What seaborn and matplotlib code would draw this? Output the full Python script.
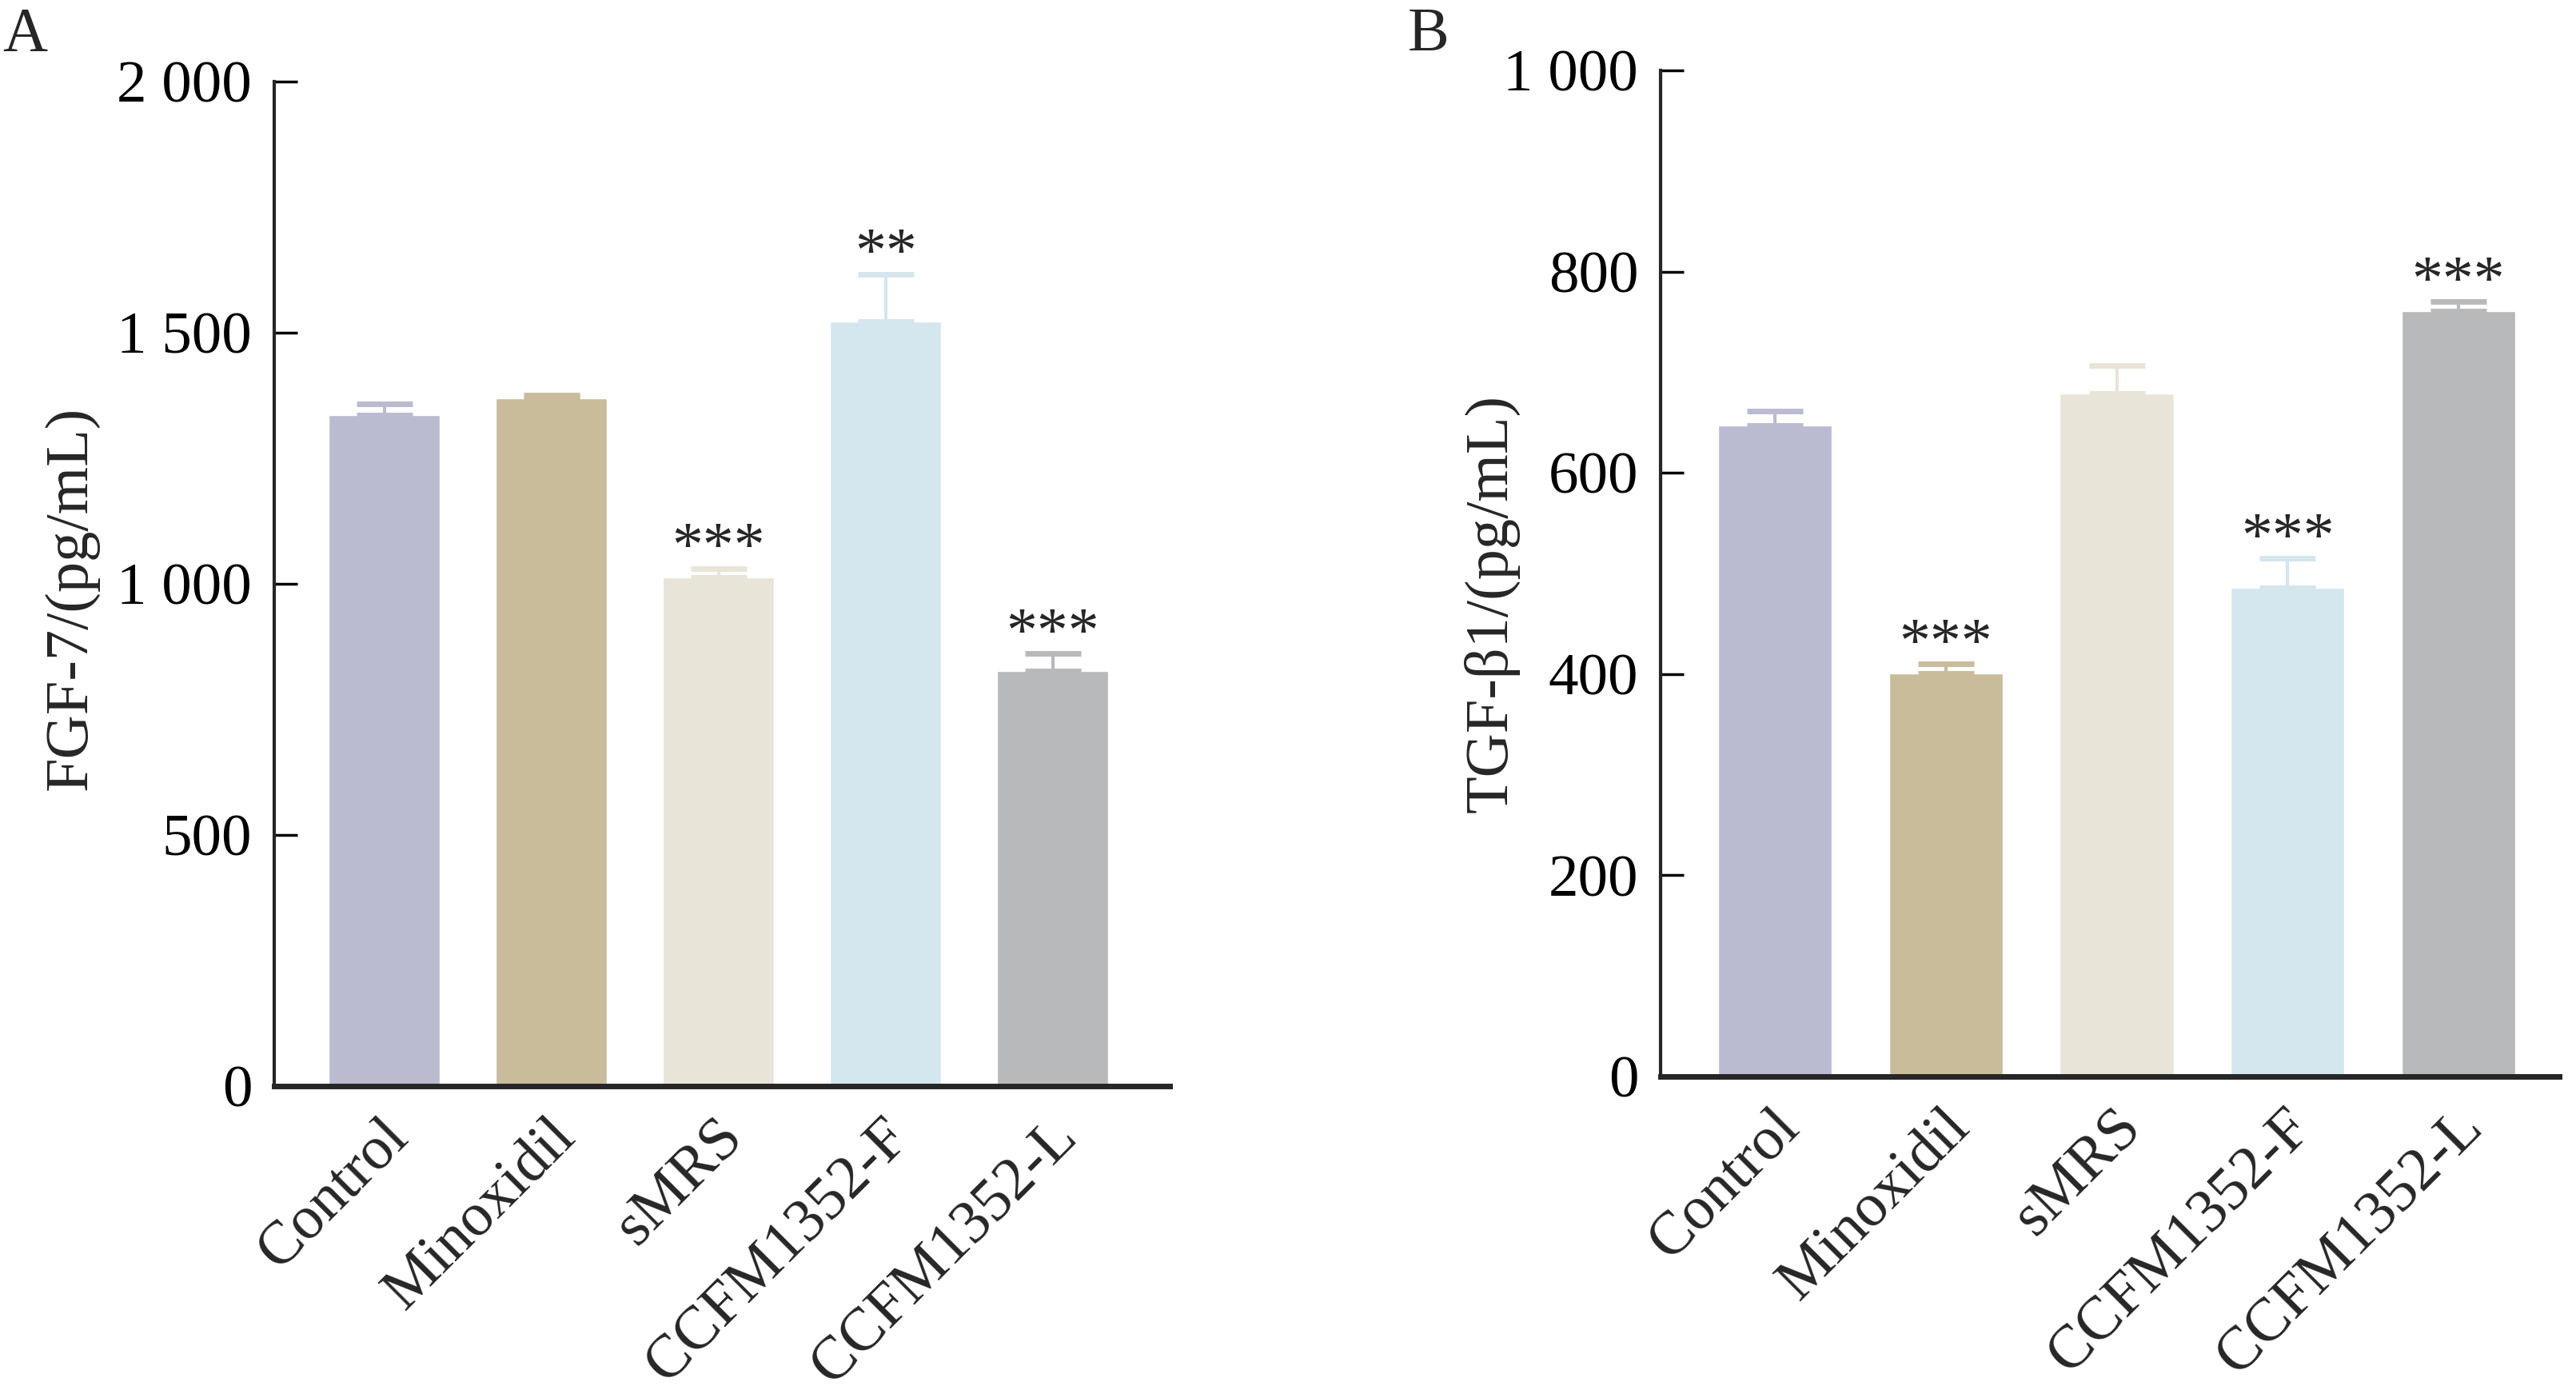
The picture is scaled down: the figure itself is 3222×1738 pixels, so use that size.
import numpy as np
import pandas as pd
import matplotlib.pyplot as plt
import matplotlib.transforms as mtrans
from matplotlib.ticker import FuncFormatter
import seaborn as sns

# data (mean and upper error)
groups = ['Control', 'Minoxidil', 'sMRS', 'CCFM1352-F', 'CCFM1352-L']
colors = ['#BABBD1', '#C9BC9B', '#E8E4D8', '#D4E6EE', '#B8B9BB']

fgf7_mean = [1336, 1369, 1013, 1522, 826]
fgf7_err = [23, 7, 18, 95, 35]
fgf7_sig = ['', '', '***', '**', '***']

tgfb1_mean = [647, 401, 679, 486, 761]
tgfb1_err = [14, 9, 28, 29, 9]
tgfb1_sig = ['', '***', '', '***', '***']

sns.set_theme(style='ticks')
plt.rcParams['font.family'] = ['Liberation Serif', 'DejaVu Serif']


def fmt(v, pos):
    return f'{int(v):,}'.replace(',', ' ')


def panel(ax, means, errs, sigs, ylim, step, ylabel, xlim, lab_xy):
    df = pd.DataFrame({'group': groups, 'value': means})
    sns.barplot(data=df, x='group', y='value', hue='group', palette=colors,
                saturation=1, width=0.665, errorbar=None, legend=False, ax=ax)
    for i in range(len(groups)):
        ax.errorbar(i, means[i], yerr=[[0], [errs[i]]], color=colors[i],
                    elinewidth=3, capsize=25, capthick=5, zorder=1)
        if sigs[i]:
            ax.annotate(sigs[i], (i, means[i] + errs[i]), xytext=(0, -9),
                        textcoords='offset points', ha='center', va='bottom',
                        fontsize=56)
    ax.set_ylim(*ylim)
    ax.set_xlim(*xlim)
    ax.set_yticks(np.arange(ylim[0], ylim[1] + 1, step))
    ax.yaxis.set_major_formatter(FuncFormatter(fmt))
    sns.despine(ax=ax)
    ax.spines['left'].set_linewidth(3)
    ax.spines['bottom'].set_linewidth(5)
    ax.tick_params(axis='y', direction='in', length=21, width=2.5, pad=20,
                   labelsize=54, colors='black')
    ax.tick_params(axis='x', length=0, pad=20, labelsize=55)
    ax.set_xlabel('')
    ax.set_ylabel(ylabel, fontsize=55, va='center')
    ax.yaxis.set_label_coords(*lab_xy)
    off = mtrans.ScaledTranslation(-5 / 100, 0, ax.figure.dpi_scale_trans)
    for t in ax.get_xticklabels():
        t.set_rotation(45)
        t.set_ha('right')
        t.set_rotation_mode('anchor')
        t.set_transform(t.get_transform() + off)


fig = plt.figure(figsize=(32.22, 17.38), dpi=100)
axA = fig.add_axes([343 / 3222, 1 - 1358 / 1738, 1120 / 3222, 1256 / 1738])
axB = fig.add_axes([2077 / 3222, 1 - 1346 / 1738, 1124 / 3222, 1258 / 1738])

panel(axA, fgf7_mean, fgf7_err, fgf7_sig, (0, 2000), 500,
      'FGF-7/(pg/mL)', (-0.66, 4.70), (-0.227, 0.486))
panel(axB, tgfb1_mean, tgfb1_err, tgfb1_sig, (0, 1000), 200,
      'TGF-β1/(pg/mL)', (-0.67, 4.59), (-0.188, 0.470))

fig.text(0.001, 0.995, 'A', fontsize=56, va='top', ha='left')
fig.text(1761 / 3222, 0.995, 'B', fontsize=56, va='top', ha='left')

fig.savefig('out.png', dpi=100)
